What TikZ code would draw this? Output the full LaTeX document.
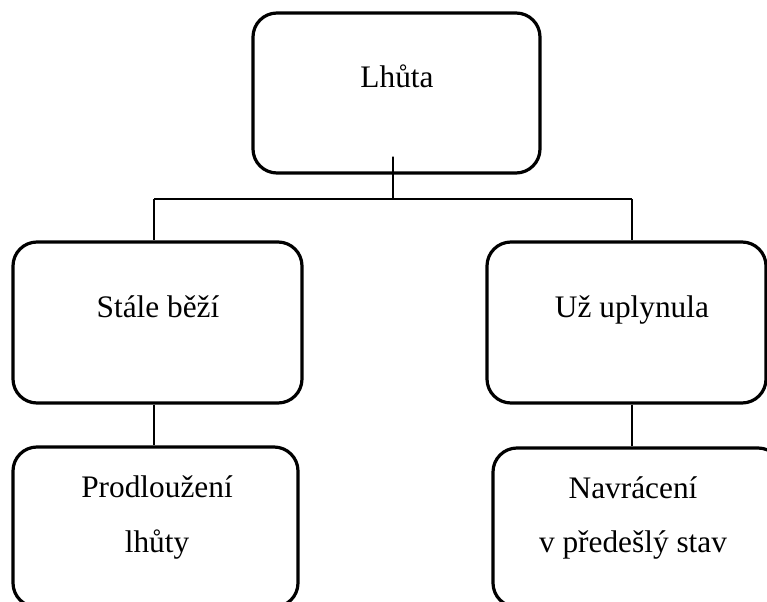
\documentclass[tikz,border=0pt]{standalone}
\usepackage{fontspec}
\setmainfont{Liberation Serif}
\begin{document}
\begin{tikzpicture}[x=0.75pt,y=-0.75pt,
  box/.style={draw=black,line width=2.4pt,rounded corners=18pt,inner sep=0pt,rectangle},
  lbl/.style={anchor=base,inner sep=0pt,font=\fontsize{23.5}{28}\selectfont},
  conn/.style={draw=black,line width=1.3pt}]
\useasboundingbox (0,0) rectangle (767,602);
% boxes
\node[box,minimum width=215.25pt,minimum height=120pt] (top) at (396.5,93) {};
\node[box,minimum width=216.75pt,minimum height=120.75pt] (l1) at (157.5,322.5) {};
\node[box,minimum width=209.25pt,minimum height=120.75pt] (r1) at (626.5,322.5) {};
\node[box,minimum width=213.75pt,minimum height=120pt] (l2) at (155.5,527) {};
\node[box,minimum width=216.75pt,minimum height=119.25pt] (r2) at (637.5,527.5) {};
% texts
\node[lbl] (tTop) at (397,88) {Lhůta};
\node[lbl] (tL1) at (158,317) {Stále běží};
\node[lbl] (tR1) at (632,317) {Už uplynula};
\node[lbl] (tL2a) at (157,497) {Prodloužení};
\node[lbl] (tL2b) at (157,552) {lhůty};
\node[lbl] (tR2a) at (633,498) {Navrácení};
\node[lbl] (tR2b) at (633,552) {v předešlý stav};
% connectors
\coordinate (cJoin) at (393,199);
\coordinate (cL) at (154,199);
\coordinate (cR) at (632,199);
\draw[conn] ([xshift=-2.6pt,yshift=13.5pt]top.south) -- (cJoin);
\draw[conn] (cL) -- (cL |- l1.north);
\draw[conn] (cL) -- (cR);
\draw[conn] (cR) -- (cR |- r1.north);
\draw[conn] (cL |- l1.south) -- (cL |- l2.north);
\draw[conn] (cR |- r1.south) -- (cR |- r2.north);
\end{tikzpicture}
\end{document}
